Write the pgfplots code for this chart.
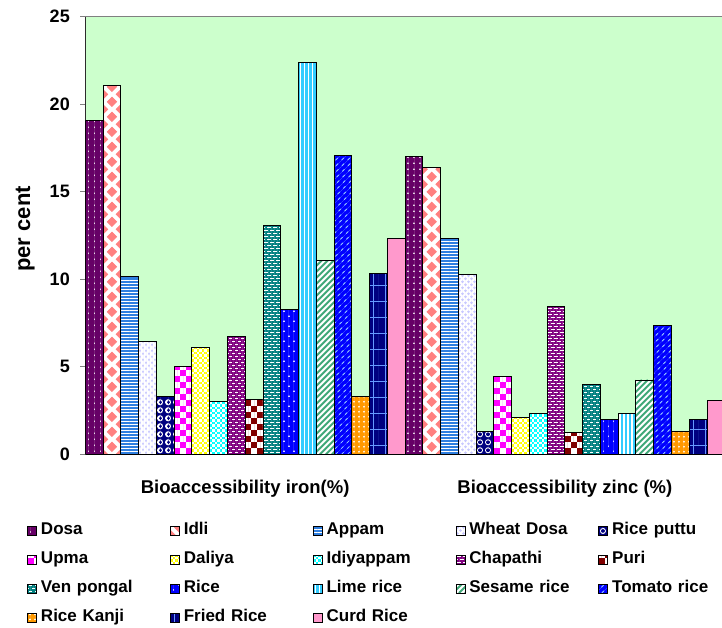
\documentclass[border=0pt]{standalone}
\usepackage{fontspec}
\setmainfont{Liberation Sans}
\usepackage{pgfplots}
\pgfplotsset{compat=1.18}

% colours
\definecolor{bgreen}{HTML}{CCFFCC}
\definecolor{cdosa}{HTML}{660066}
\definecolor{cidli}{HTML}{FF8080}
\definecolor{cappam}{HTML}{2F7FE0}
\definecolor{cwdosa}{HTML}{C8C8FF}
\definecolor{cputtu}{HTML}{000080}
\definecolor{cupma}{HTML}{FF00FF}
\definecolor{cdaliya}{HTML}{FFFF00}
\definecolor{cidiy}{HTML}{00FFFF}
\definecolor{cchap}{HTML}{800080}
\definecolor{cpuri}{HTML}{800000}
\definecolor{cvenp}{HTML}{008080}
\definecolor{crice}{HTML}{0000FF}
\definecolor{clime}{HTML}{33CCFF}
\definecolor{csesame}{HTML}{40A878}
\definecolor{ctomato}{HTML}{0000FF}
\definecolor{cdash}{HTML}{99CCFF}
\definecolor{ckanji}{HTML}{FF9900}
\definecolor{cfried}{HTML}{000080}
\definecolor{cgrid}{HTML}{6699FF}
\definecolor{ccurd}{HTML}{FF99CC}

% ---- texture helpers, used inside path picture ----
\makeatletter
\newif\iftexon
% run the texture code once, never again for the paths it draws itself
\newcommand\texture[1]{\iftexon\else\texontrue
  \let\tikz@path@picture\pgfutil@empty
  \tikzset{path picture/.code={}}%
  #1\fi}
\makeatother
\newcommand\getbb{%
  \pgfpointanchor{path picture bounding box}{south west}\pgfgetlastxy{\xa}{\ya}%
  \pgfpointanchor{path picture bounding box}{north east}\pgfgetlastxy{\xb}{\yb}}
% vertical lines, one path: spacing, x offset, y offset, style
\newcommand\vcols[4]{\getbb
  \pgfmathtruncatemacro\ncols{(\xb-\xa)/(#1)+1}%
  \draw[#4] \foreach \k in {0,...,\ncols}{({\xa+#2+\k*#1},{\ya+#3}) -- ({\xa+#2+\k*#1},\yb)};}
% one full-width vertical band: y offset, style
\newcommand\hband[2]{\getbb
  \pgfmathsetlengthmacro\ww{\xb-\xa}%
  \draw[line width=\ww, #2] ({0.5*\xa+0.5*\xb},{\ya+#1}) -- ({0.5*\xa+0.5*\xb},\yb);}
% diagonal lines, one path: spacing, style
\newcommand\diagl[2]{\getbb
  \pgfmathtruncatemacro\nd{(\xb-\xa+\yb-\ya)/(#1)+1}%
  \draw[#2] \foreach \k in {0,...,\nd}{({\xa+\k*#1-\yb+\ya},\ya) -- ({\xa+\k*#1},\yb)};}
% diamond lattice, one path: colour
\newcommand\diamonds[1]{\getbb
  \pgfmathtruncatemacro\nr{(\yb-\ya)/7.5pt+1}%
  \fill[#1] \foreach \r [evaluate=\r as \off using {mod(\r,2)*8.88}] in {0,...,\nr}{%
      \foreach \c in {0,1,2}{%
        ({\xa+\c*17.76pt+\off*1pt},{\ya+\r*7.5pt-4.6pt}) -- ++(4.6pt,4.6pt) -- ++(-4.6pt,4.6pt) -- ++(-4.6pt,-4.6pt) -- cycle}};}

\tikzset{
  barline/.style={draw=black, line width=0.8pt},
  dotline/.style n args={3}{#1, line width=#2, line cap=round, dash pattern=on 0.1pt off #3},
  tx dosa/.style={fill=cdosa, barline, path picture={\texture{%
      \vcols{6pt}{3pt}{3pt}{dotline={white}{1.6pt}{5.9pt}}}}},
  tx idli/.style={fill=white, barline, path picture={\texture{\diamonds{cidli}}}},
  tx appam/.style={fill=white, barline, path picture={\texture{\hband{0pt}{cappam, dash pattern=on 1.9pt off 1.1pt}}}},
  tx wdosa/.style={fill=white, barline, path picture={\texture{%
      \vcols{6pt}{1.5pt}{1.5pt}{dotline={cwdosa}{2.6pt}{5.9pt}}%
      \vcols{6pt}{4.5pt}{4.5pt}{dotline={cwdosa}{2.6pt}{5.9pt}}}}},
  tx puttu/.style={fill=cputtu, barline, path picture={\texture{%
      \vcols{8pt}{4pt}{4pt}{dotline={white}{6pt}{7.9pt}}%
      \vcols{8pt}{4pt}{4pt}{dotline={cputtu}{3.6pt}{7.9pt}}}}},
  tx upma/.style={fill=white, barline, path picture={\texture{%
      \vcols{12pt}{3pt}{0pt}{cupma, line width=6pt, dash pattern=on 6pt off 6pt}%
      \vcols{12pt}{9pt}{6pt}{cupma, line width=6pt, dash pattern=on 6pt off 6pt}}}},
  tx daliya/.style={fill=cdaliya, barline, path picture={\texture{%
      \vcols{5pt}{1.25pt}{0pt}{white, line width=2.5pt, dash pattern=on 2.5pt off 2.5pt}%
      \vcols{5pt}{3.75pt}{2.5pt}{white, line width=2.5pt, dash pattern=on 2.5pt off 2.5pt}}}},
  tx idiy/.style={fill=cidiy, barline, path picture={\texture{%
      \vcols{5pt}{1.25pt}{0pt}{white, line width=2.5pt, dash pattern=on 2.5pt off 2.5pt}%
      \vcols{5pt}{3.75pt}{2.5pt}{white, line width=2.5pt, dash pattern=on 2.5pt off 2.5pt}}}},
  tx chap/.style={fill=cchap, barline, path picture={\texture{%
      \vcols{6pt}{3pt}{1pt}{white, line width=3.2pt, dash pattern=on 1.4pt off 4.6pt}%
      \vcols{6pt}{0pt}{4pt}{white, line width=3.2pt, dash pattern=on 1.4pt off 4.6pt}}}},
  tx puri/.style={fill=white, barline, path picture={\texture{%
      \vcols{12pt}{3pt}{0pt}{cpuri, line width=6pt, dash pattern=on 6pt off 6pt}%
      \vcols{12pt}{9pt}{6pt}{cpuri, line width=6pt, dash pattern=on 6pt off 6pt}}}},
  tx venp/.style={fill=cvenp, barline, path picture={\texture{%
      \vcols{6pt}{3pt}{1pt}{white, line width=3.2pt, dash pattern=on 1.4pt off 4.6pt}%
      \vcols{6pt}{0pt}{4pt}{white, line width=3.2pt, dash pattern=on 1.4pt off 4.6pt}}}},
  tx rice/.style={fill=crice, barline, path picture={\texture{%
      \vcols{10pt}{3pt}{3pt}{dotline={white}{1.7pt}{9.9pt}}%
      \vcols{10pt}{8pt}{8pt}{dotline={white}{1.7pt}{9.9pt}}}}},
  tx lime/.style={fill=clime, barline, path picture={\texture{%
      \vcols{4pt}{2pt}{0pt}{white, line width=1.4pt}}}},
  tx sesame/.style={fill=white, barline, path picture={\texture{\diagl{6pt}{csesame, line width=2pt}}}},
  tx tomato/.style={fill=ctomato, barline, path picture={\texture{%
      \diagl{6pt}{cdash, line width=0.8pt, dash pattern=on 3pt off 5pt}}}},
  tx kanji/.style={fill=ckanji, barline, path picture={\texture{%
      \vcols{5pt}{2.5pt}{2.5pt}{dotline={white}{1.8pt}{4.9pt}}}}},
  tx fried/.style={fill=cfried, barline, path picture={\texture{%
      \hband{8pt}{cgrid, dash pattern=on 0.9pt off 15.1pt}%
      \vcols{12pt}{4pt}{0pt}{cgrid, line width=0.9pt}}}},
  tx curd/.style={fill=ccurd, barline},
}

\begin{document}
\begin{tikzpicture}
\useasboundingbox (0,0) rectangle (722pt,627pt);
\begin{axis}[
  at={(85.3pt,172.7pt)}, anchor=south west,
  scale only axis, width=639.4pt, height=437.6pt,
  ybar, bar width=17.76pt,
  xmin=0.5, xmax=2.5, ymin=0, ymax=25,
  xtick={1,2},
  xticklabels={Bioaccessibility iron(\%), Bioaccessibility zinc (\%)},
  ytick={0,5,10,15,20,25},
  axis background/.style={fill=bgreen},
  axis line style={draw=gray, line width=0.9pt},
  tick align=outside, major tick length=5pt,
  ytick style={draw=gray, line width=0.8pt},
  xtick style={draw=none},
  /pgf/number format/assume math mode=true,
  yticklabel style={font=\fontsize{18}{20}\selectfont\bfseries, xshift=-7pt},
  xticklabel style={font=\fontsize{18.5}{20}\selectfont\bfseries, anchor=center, yshift=-29pt},
  ylabel={per cent},
  every axis y label/.style={at={(axis description cs:-0.094,0.515)}, rotate=90, anchor=center,
    font=\fontsize{22}{24}\selectfont\bfseries},
  legend columns=5,
  legend cell align=left,
  legend image code/.code={\draw[#1] (0pt,-4.5pt) rectangle (9pt,4.5pt);},
  legend style={at={(axis description cs:0,0)}, anchor=north west,
    xshift=-58.3pt, yshift=-68pt, draw=none, fill=none, inner sep=0pt,
    font=\fontsize{17}{19}\selectfont\bfseries, row sep=13pt,
    nodes={text width=127pt, inner xsep=2pt, inner ysep=0pt, text height=12pt, text depth=4pt, align=left},
    /tikz/every odd column/.append style={column sep=2pt}},
]
% iron (each bar its own path, so every texture fits its bar)
\addplot[tx dosa,   bar shift=-150.96pt] coordinates {(1,19.05)};
\addplot[tx idli,   bar shift=-133.20pt] coordinates {(1,21.05)};
\addplot[tx appam,  bar shift=-115.44pt] coordinates {(1,10.15)};
\addplot[tx wdosa,  bar shift=-97.68pt]  coordinates {(1,6.43)};
\addplot[tx puttu,  bar shift=-79.92pt]  coordinates {(1,3.33)};
\addplot[tx upma,   bar shift=-62.16pt]  coordinates {(1,5.05)};
\addplot[tx daliya, bar shift=-44.40pt]  coordinates {(1,6.11)};
\addplot[tx idiy,   bar shift=-26.64pt]  coordinates {(1,3.05)};
\addplot[tx chap,   bar shift=-8.88pt]   coordinates {(1,6.76)};
\addplot[tx puri,   bar shift=8.88pt]    coordinates {(1,3.14)};
\addplot[tx venp,   bar shift=26.64pt]   coordinates {(1,13.1)};
\addplot[tx rice,   bar shift=44.40pt]   coordinates {(1,8.3)};
\addplot[tx lime,   bar shift=62.16pt]   coordinates {(1,22.4)};
\addplot[tx sesame, bar shift=79.92pt]   coordinates {(1,11.1)};
\addplot[tx tomato, bar shift=97.68pt]   coordinates {(1,17.05)};
\addplot[tx kanji,  bar shift=115.44pt]  coordinates {(1,3.33)};
\addplot[tx fried,  bar shift=133.20pt]  coordinates {(1,10.34)};
\addplot[tx curd,   bar shift=150.96pt]  coordinates {(1,12.34)};
\legend{Dosa, Idli, Appam, Wheat Dosa, Rice puttu,
        Upma, Daliya, Idiyappam, Chapathi, Puri,
        Ven pongal, Rice, Lime rice, Sesame rice, Tomato rice,
        Rice Kanji, Fried Rice, Curd Rice}
% zinc
\addplot[tx dosa,   bar shift=-150.96pt, forget plot] coordinates {(2,17.0)};
\addplot[tx idli,   bar shift=-133.20pt, forget plot] coordinates {(2,16.4)};
\addplot[tx appam,  bar shift=-115.44pt, forget plot] coordinates {(2,12.34)};
\addplot[tx wdosa,  bar shift=-97.68pt,  forget plot] coordinates {(2,10.3)};
\addplot[tx puttu,  bar shift=-79.92pt,  forget plot] coordinates {(2,1.33)};
\addplot[tx upma,   bar shift=-62.16pt,  forget plot] coordinates {(2,4.45)};
\addplot[tx daliya, bar shift=-44.40pt,  forget plot] coordinates {(2,2.1)};
\addplot[tx idiy,   bar shift=-26.64pt,  forget plot] coordinates {(2,2.35)};
\addplot[tx chap,   bar shift=-8.88pt,   forget plot] coordinates {(2,8.47)};
\addplot[tx puri,   bar shift=8.88pt,    forget plot] coordinates {(2,1.25)};
\addplot[tx venp,   bar shift=26.64pt,   forget plot] coordinates {(2,4.0)};
\addplot[tx rice,   bar shift=44.40pt,   forget plot] coordinates {(2,2.0)};
\addplot[tx lime,   bar shift=62.16pt,   forget plot] coordinates {(2,2.35)};
\addplot[tx sesame, bar shift=79.92pt,   forget plot] coordinates {(2,4.25)};
\addplot[tx tomato, bar shift=97.68pt,   forget plot] coordinates {(2,7.35)};
\addplot[tx kanji,  bar shift=115.44pt,  forget plot] coordinates {(2,1.33)};
\addplot[tx fried,  bar shift=133.20pt,  forget plot] coordinates {(2,2.0)};
\addplot[tx curd,   bar shift=150.96pt,  forget plot] coordinates {(2,3.1)};
\draw[black, line width=0.9pt] (rel axis cs:0,0) -- (rel axis cs:0,1);
\end{axis}
\end{tikzpicture}
\end{document}
